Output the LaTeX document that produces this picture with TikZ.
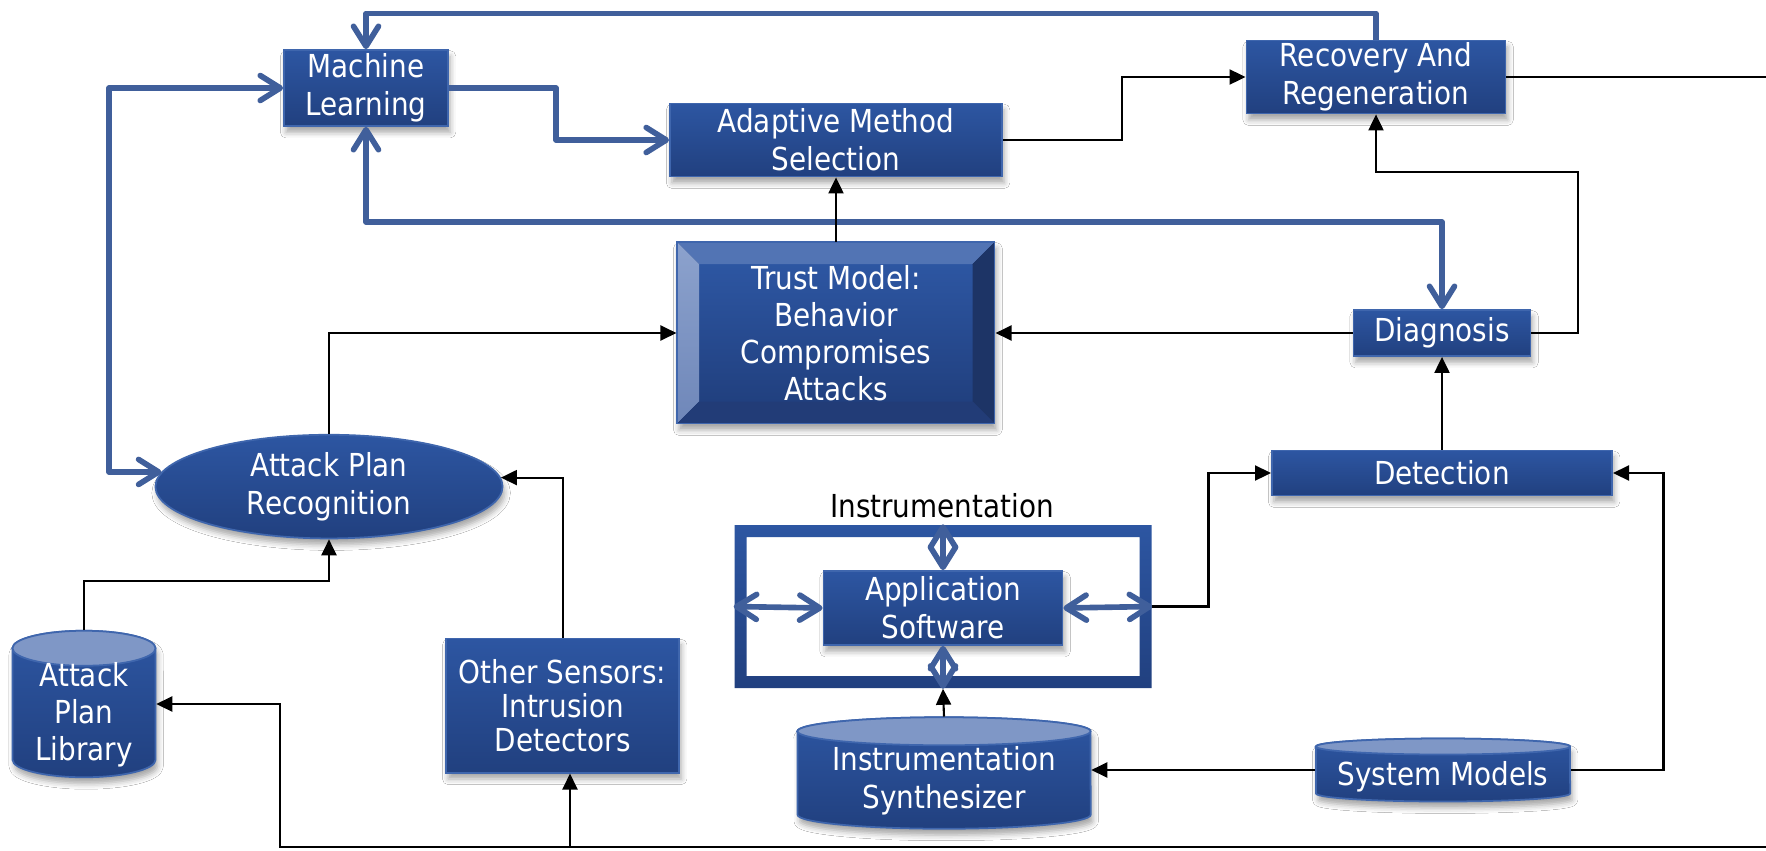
\documentclass[tikz,border=0pt]{standalone}
\usepackage{fontspec}
\newfontfamily\boxfont{DejaVu Sans}[FakeStretch=0.88]
\usetikzlibrary{arrows.meta,shapes.geometric,shadows.blur,calc}

\definecolor{boxtop}{HTML}{2D56A2}
\definecolor{boxbot}{HTML}{21407F}
\definecolor{boxedge}{HTML}{3F66AD}
\definecolor{flow}{HTML}{405F9B}
\definecolor{cantop}{HTML}{7F97C6}
\definecolor{bevtop}{HTML}{5274B4}
\definecolor{bevlefttop}{HTML}{8CA2CD}
\definecolor{bevleftbot}{HTML}{6F87B9}
\definecolor{bevright}{HTML}{1D3466}
\definecolor{bevbot}{HTML}{223C77}

\tikzset{
  chev/.tip={Straight Barb[length=2mm,width=2.5mm,round]},
  blk/.style={draw=black, line width=0.6pt, -{Triangle[length=1.6mm,width=1.5mm]}},
  flowline/.style={draw=flow, line width=1.6pt, line join=round},
  shadowed/.style={blur shadow={shadow xshift=0.6pt, shadow yshift=-1.8pt, shadow blur radius=1.6pt, shadow opacity=35}},
  txt/.style={font=\boxfont\fontsize{9}{10.8}\selectfont},
  box/.style={rectangle, draw=boxedge, line width=0.5pt, top color=boxtop, bottom color=boxbot,
    text=white, align=center, inner sep=0pt, txt, shadowed},
  lbl/.style={text=white, align=center, inner sep=0pt, txt},
  anchorbox/.style={rectangle, inner sep=0pt, draw=none},
}

% can (cylinder) shape: centre x, centre y, width, height, cap radius (units of 0.01cm)
\newcommand\drawcan[5]{%
  \pgfmathsetmacro\canL{#1-#3/2}%
  \pgfmathsetmacro\canR{#1+#3/2}%
  \pgfmathsetmacro\canT{#2+#4/2-#5}%
  \pgfmathsetmacro\canB{#2-#4/2+#5}%
  \pgfmathsetmacro\canrx{#3/200}%
  \pgfmathsetmacro\canry{#5/100}%
  \path[shadowed, draw=boxedge, line width=0.5pt, top color=boxtop, bottom color=boxbot]
    (\canL,\canT) -- (\canL,\canB)
    arc[start angle=180, end angle=360, x radius=\canrx cm, y radius=\canry cm]
    -- (\canR,\canT)
    arc[start angle=0, end angle=180, x radius=\canrx cm, y radius=\canry cm] -- cycle;
  \path[fill=cantop, draw=boxedge, line width=0.5pt] (#1,\canT) ellipse[x radius=\canrx cm, y radius=\canry cm];
}

\begin{document}
\begin{tikzpicture}[x=0.01cm, y=0.01cm]
\useasboundingbox (0,0) rectangle (1766,850);
\fill[white] (0,0) rectangle (1766,850);

% ---- bevelled trust model block
\path[shadowed, fill=bevbot] (677,426.5) rectangle (994.5,608);
\shade[top color=boxtop, bottom color=boxbot] (699,448.5) rectangle (972.5,586);
\fill[bevtop] (677,608) -- (994.5,608) -- (972.5,586) -- (699,586) -- cycle;
\shade[top color=bevlefttop, bottom color=bevleftbot] (677,608) -- (699,586) -- (699,448.5) -- (677,426.5) -- cycle;
\fill[bevright] (994.5,608) -- (994.5,426.5) -- (972.5,448.5) -- (972.5,586) -- cycle;
\fill[bevbot] (677,426.5) -- (994.5,426.5) -- (972.5,448.5) -- (699,448.5) -- cycle;
\draw[boxedge, line width=0.5pt] (677,426.5) rectangle (994.5,608);
\node[anchorbox, lbl, minimum width=3.175cm, minimum height=1.815cm,
  font=\boxfont\fontsize{9}{10.5}\selectfont] (tm) at (836,517) {Trust Model:\\Behavior\\Compromises\\Attacks};

% ---- instrumentation frame
\shade[top color=boxtop, bottom color=boxbot, even odd rule]
  (734.5,162) rectangle (1151.5,325) (746.5,174) rectangle (1139.5,313);
\node[anchorbox, minimum width=4.17cm, minimum height=1.63cm] (frame) at (943,243.5) {};
\node[txt, text=black, inner sep=0pt] (instlabel) at (942,344) {Instrumentation};

% ---- cans
\drawcan{84}{146}{143}{146.5}{17.5}
\node[anchorbox, minimum width=1.43cm, minimum height=1.465cm] (lib) at (84,146) {};
\node[lbl, font=\boxfont\fontsize{9}{10.5}\selectfont] (libtext) at (84,135) {Attack\\Plan\\Library};

\drawcan{944}{77}{293}{111.5}{14}
\node[anchorbox, minimum width=2.93cm, minimum height=1.115cm] (syn) at (944,77) {};
\node[lbl] (syntext) at (944,69.5) {Instrumentation\\Synthesizer};

\drawcan{1443}{80}{254}{63}{8}
\node[anchorbox, minimum width=2.54cm, minimum height=0.63cm] (sm) at (1443,80) {};
\node[lbl] (smtext) at (1443,73) {System Models};

% ---- boxes
\node[box, minimum width=1.64cm, minimum height=0.76cm] (ml) at (366,762) {Machine\\Learning};
\node[box, minimum width=3.32cm, minimum height=0.73cm] (ad) at (836,710) {Adaptive Method\\Selection};
\node[box, minimum width=2.59cm, minimum height=0.73cm] (rec) at (1376,773) {Recovery And\\Regeneration};
\node[box, minimum width=1.77cm, minimum height=0.46cm] (dg) at (1442,517) {Diagnosis};
\node[box, minimum width=3.40cm, minimum height=0.45cm] (det) at (1442,377) {Detection};
\node[box, minimum width=2.39cm, minimum height=0.74cm] (app) at (943,242) {Application\\Software};
\node[box, minimum width=2.33cm, minimum height=1.34cm,
  font=\boxfont\fontsize{9}{9.7}\selectfont] (os) at (562.6,144.4) {Other Sensors:\\Intrusion\\Detectors};
\node[box, ellipse, minimum width=3.47cm, minimum height=1.036cm] (apr) at (329,363.4) {Attack Plan\\Recognition};

% ---- routing points
\coordinate (toploop) at (700,836.5);
\coordinate (leftrail) at (109,0);
\coordinate (mlturn) at (556,0);
\coordinate (bluemid) at (900,628);
\coordinate (adturn) at (1122,0);
\coordinate (edgeR) at (1766,0);
\coordinate (dgturn) at (1578,678);
\coordinate (frturn) at (1208.5,0);
\coordinate (smturn) at (1663.5,0);
\coordinate (botL) at (280,3);
\coordinate (botR) at (1766,3);
\coordinate (botmid) at (570,3);

% ---- learning feedback paths
\draw[flowline, -chev] (rec.north) |- (toploop) -| (ml.north);
\draw[flowline, chev-chev] (ml.west) -| (leftrail |- apr.175) -- (apr.175);
\draw[flowline, -chev] (ml.east) -| (mlturn |- ad.west) -- (ad.west);
\draw[flowline, chev-chev] (ml.south) |- (bluemid) -| (dg.north);
\draw[flowline, chev-chev] (frame.west) -- (app.west);
\draw[flowline, chev-chev] (app.east) -- (frame.east);
\draw[flowline, chev-chev] (frame.north) -- (app.north);
\draw[flowline, chev-chev] (app.south) -- (frame.south);

% ---- data flow
\draw[blk] (ad.east) -| (adturn |- rec.west) -- (rec.west);
\draw[draw=black, line width=0.6pt] (rec.east) -- (rec.east -| edgeR);
\draw[blk] (tm.north) -- (ad.south);
\draw[blk] (dg.west) -- (tm.east);
\draw[blk] (apr.north) |- (tm.west);
\draw[blk] (dg.east) -| (dgturn) -| (rec.south);
\draw[blk] (det.north) -- (dg.south);
\draw[blk] (frame.east) -| (frturn |- det.west) -- (det.west);
\draw[blk] (sm.east) -| (smturn |- det.east) -- (det.east);
\draw[blk] (sm.west) -- (sm.west -| syn.east);
\draw[blk] (syn.north) -- (frame.south);
\draw[blk] (os.north) |- (apr.3);
\draw[blk] (lib.north) |- ($(apr.south)+(0,-42)$) -- (apr.south);
\draw[blk] (botR) -- (botL) |- (lib.east);
\draw[blk] (botmid) -- (botmid |- os.south);
\end{tikzpicture}
\end{document}
